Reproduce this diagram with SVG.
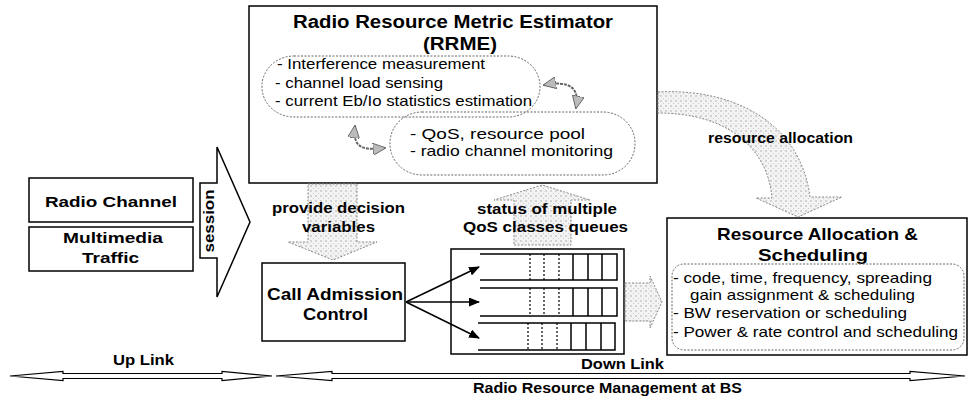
<svg xmlns="http://www.w3.org/2000/svg" width="970" height="403" viewBox="0 0 970 403">
<defs>
<pattern id="stip" width="5" height="5" patternUnits="userSpaceOnUse">
<rect width="5" height="5" fill="#f3f3f3"/>
<circle cx="1" cy="1" r="0.7" fill="#9a9a9a"/>
<circle cx="3.5" cy="3.5" r="0.5" fill="#bdbdbd"/>
</pattern>
<marker id="ah" markerWidth="11" markerHeight="9" refX="10" refY="4.5" orient="auto" markerUnits="userSpaceOnUse">
<path d="M0,0 L11,4.5 L0,9 Z" fill="#000"/>
</marker>
<marker id="gh" markerWidth="14" markerHeight="12" refX="12" refY="6" orient="auto-start-reverse" markerUnits="userSpaceOnUse">
<path d="M0,0 L13,6 L0,12 Z" fill="#bbb" stroke="#555" stroke-width="0.8"/>
</marker>
</defs>
<style>
.box{fill:#fff;stroke:#000;stroke-width:1.5}
.dash{fill:none;stroke:#666;stroke-width:1;stroke-dasharray:2 1.5}
.hatch{fill:url(#stip);stroke:#888;stroke-width:1;stroke-dasharray:2 1.5}
.ln{fill:none;stroke:#000;stroke-width:1.5}
.dot{fill:none;stroke:#000;stroke-width:1.2;stroke-dasharray:2 2}
.gcurve{fill:none;stroke:#666;stroke-width:2;stroke-dasharray:3 1}
.b{font-family:"Liberation Sans",Arial,sans-serif;font-weight:bold;fill:#000}
.r{font-family:"Liberation Sans",Arial,sans-serif;fill:#000}
</style>

<g id="rrme">
  <rect class="box" x="249" y="6" width="408" height="177"/>
  <text class="b" font-size="18" x="293" y="28" textLength="320" lengthAdjust="spacingAndGlyphs">Radio Resource Metric Estimator</text>
  <text class="b" font-size="18" x="423" y="50" textLength="74" lengthAdjust="spacingAndGlyphs">(RRME)</text>
  <rect class="dash" x="262" y="56" width="278" height="61" rx="32" ry="30"/>
  <rect class="dash" x="390" y="112" width="245" height="63" rx="32" ry="31"/>
  <text class="r" font-size="15" x="277" y="69" textLength="208" lengthAdjust="spacingAndGlyphs">- Interference measurement</text>
  <text class="r" font-size="15" x="275" y="88" textLength="168" lengthAdjust="spacingAndGlyphs">- channel load sensing</text>
  <text class="r" font-size="15" x="275" y="106" textLength="257" lengthAdjust="spacingAndGlyphs">- current Eb/Io statistics estimation</text>
  <text class="r" font-size="15" x="410" y="139" textLength="175" lengthAdjust="spacingAndGlyphs">- QoS, resource pool</text>
  <text class="r" font-size="15" x="410" y="156" textLength="203" lengthAdjust="spacingAndGlyphs">- radio channel monitoring</text>
</g>

<g id="radio-channel">
  <rect class="box" x="29" y="178" width="164" height="44"/>
  <text class="b" font-size="15" x="45" y="207" textLength="132" lengthAdjust="spacingAndGlyphs">Radio Channel</text>
</g>

<g id="multimedia-traffic">
  <rect class="box" x="29" y="227" width="164" height="44"/>
  <text class="b" font-size="15" x="63" y="243" textLength="100" lengthAdjust="spacingAndGlyphs">Multimedia</text>
  <text class="b" font-size="15" x="82" y="263" textLength="57" lengthAdjust="spacingAndGlyphs">Traffic</text>
</g>

<g id="cac">
  <rect class="box" x="262" y="263" width="143" height="78"/>
  <text class="b" font-size="16" x="267" y="300" textLength="136" lengthAdjust="spacingAndGlyphs">Call Admission</text>
  <text class="b" font-size="16" x="303" y="320" textLength="65" lengthAdjust="spacingAndGlyphs">Control</text>
</g>

<g id="queues">
  <rect class="box" x="451" y="249" width="173" height="105"/>
  <path class="ln" d="M480,254 H617 V280 H480"/>
  <path class="dot" d="M530,254 V280 M544,254 V280 M559,254 V280"/>
  <path class="ln" d="M573,254 V280 M588,254 V280 M602,254 V280"/>
  <path class="ln" d="M480,288 H617 V316 H480"/>
  <path class="dot" d="M530,288 V316 M544,288 V316 M559,288 V316"/>
  <path class="ln" d="M573,288 V316 M588,288 V316 M602,288 V316"/>
  <path class="ln" d="M478,323 H615 V350 H478"/>
  <path class="dot" d="M528,323 V350 M542,323 V350 M557,323 V350"/>
  <path class="ln" d="M571,323 V350 M586,323 V350 M601,323 V350"/>
</g>

<g id="resource-allocation">
  <rect class="box" x="667" y="218" width="300" height="137"/>
  <text class="b" font-size="17" x="717" y="240" textLength="201" lengthAdjust="spacingAndGlyphs">Resource Allocation &amp;</text>
  <text class="b" font-size="17" x="758" y="261" textLength="110" lengthAdjust="spacingAndGlyphs">Scheduling</text>
  <rect class="dash" x="672" y="264" width="292" height="86" rx="12" ry="12"/>
  <text class="r" font-size="15" x="673" y="283" textLength="259" lengthAdjust="spacingAndGlyphs">- code, time, frequency, spreading</text>
  <text class="r" font-size="15" x="690" y="300" textLength="225" lengthAdjust="spacingAndGlyphs">gain assignment &amp; scheduling</text>
  <text class="r" font-size="15" x="673" y="318" textLength="234" lengthAdjust="spacingAndGlyphs">- BW reservation or scheduling</text>
  <text class="r" font-size="15" x="673" y="337" textLength="285" lengthAdjust="spacingAndGlyphs">- Power &amp; rate control and scheduling</text>
</g>

<g id="connectors">
  <polygon class="hatch" points="308,184 357,184 357,242 377,242 333,260 288,242 308,242"/>
  <polygon class="hatch" points="514,245 571,245 571,200 590,200 542,185 494,200 514,200"/>
  <path class="hatch" d="M658,92 C730,88 800,120 810,197 L842,197 L798,217 L756,198 L772,198 C768,150 730,113 658,113 Z"/>
  <polygon class="hatch" points="625,283 650,283 650,276 662,302 650,328 650,321 625,321"/>
  <polygon fill="#fff" stroke="#000" stroke-width="1.5" points="200,183 217,183 217,147 250,222 217,297 217,258 200,258"/>
  <line class="ln" x1="406" y1="302" x2="479" y2="267" marker-end="url(#ah)"/>
  <line class="ln" x1="406" y1="302" x2="479" y2="302" marker-end="url(#ah)"/>
  <line class="ln" x1="406" y1="302" x2="479" y2="338" marker-end="url(#ah)"/>
  <path class="gcurve" d="M355,126 C352,150 365,150 385,148" marker-start="url(#gh)" marker-end="url(#gh)"/>
  <path class="gcurve" d="M544,85 C570,80 580,88 576,108" marker-start="url(#gh)" marker-end="url(#gh)"/>
  <polygon fill="#fff" stroke="#000" stroke-width="1.2" points="10,376 63,371.5 63,373.5 222,373.5 222,371.5 272,376 222,380.5 222,378.5 63,378.5 63,380.5"/>
  <polygon fill="#fff" stroke="#000" stroke-width="1.2" points="276,376 332,371.5 332,373.5 910,373.5 910,371.5 965,376 910,380.5 910,378.5 332,378.5 332,380.5"/>
  <text class="b" font-size="14" transform="translate(214,221) rotate(-90)" text-anchor="middle" textLength="63" lengthAdjust="spacingAndGlyphs">session</text>
  <text class="b" font-size="15" x="272" y="213" textLength="133" lengthAdjust="spacingAndGlyphs">provide decision</text>
  <text class="b" font-size="15" x="302" y="232" textLength="73" lengthAdjust="spacingAndGlyphs">variables</text>
  <text class="b" font-size="15" x="477" y="214" textLength="140" lengthAdjust="spacingAndGlyphs">status of multiple</text>
  <text class="b" font-size="15" x="463" y="232" textLength="165" lengthAdjust="spacingAndGlyphs">QoS classes queues</text>
  <text class="b" font-size="15" x="708" y="143" textLength="145" lengthAdjust="spacingAndGlyphs">resource allocation</text>
  <text class="b" font-size="14" x="113" y="365" textLength="61" lengthAdjust="spacingAndGlyphs">Up Link</text>
  <text class="b" font-size="14" x="581" y="369" textLength="83" lengthAdjust="spacingAndGlyphs">Down Link</text>
  <text class="b" font-size="14" x="473" y="393" textLength="269" lengthAdjust="spacingAndGlyphs">Radio Resource Management at BS</text>
</g>
</svg>
